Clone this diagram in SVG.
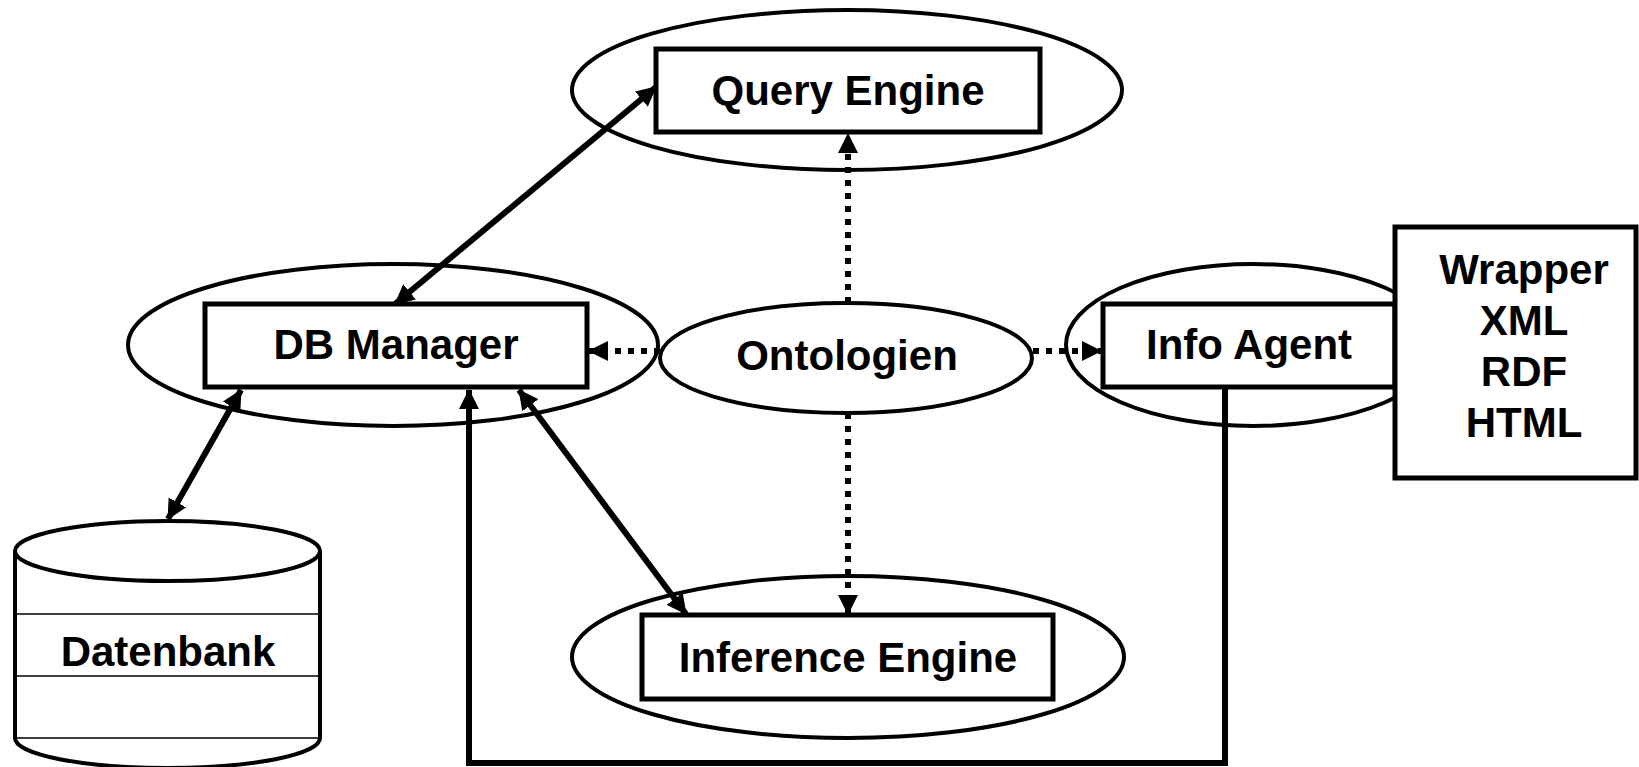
<svg xmlns="http://www.w3.org/2000/svg" width="1639" height="767" viewBox="0 0 1639 767">
  <style>
    .ring { fill: #ffffff; stroke: #000000; stroke-width: 4; }
    .box { fill: #ffffff; stroke: #000000; stroke-width: 5; }
    .label { font-family: "Liberation Sans", Arial, Helvetica, sans-serif; font-weight: bold; font-size: 42px; fill: #000000; text-anchor: middle; }
    .thin { stroke: #000000; stroke-width: 1.5; fill: none; }
    .solid { fill: none; stroke: #000000; stroke-width: 6; }
    .dotted { fill: none; stroke: #000000; stroke-width: 6; stroke-dasharray: 6 7; }
  </style>
  <defs>
    <marker id="tip" markerUnits="userSpaceOnUse" markerWidth="21" markerHeight="21" viewBox="0 0 21 21" refX="19" refY="10.5" orient="auto-start-reverse">
      <path d="M0,0.5 L20,10.5 L0,20.5 z" fill="#000000"/>
    </marker>
  </defs>

  <rect width="1639" height="767" fill="#ffffff"/>

  <!-- Query Engine -->
  <g id="query-engine">
    <ellipse class="ring" cx="847" cy="90" rx="275" ry="80"/>
    <rect class="box" x="656" y="49" width="384" height="83"/>
    <text class="label" x="848" y="105">Query Engine</text>
  </g>

  <!-- DB Manager -->
  <g id="db-manager">
    <ellipse class="ring" cx="393" cy="345" rx="265" ry="81"/>
    <rect class="box" x="205" y="304" width="382" height="83"/>
    <text class="label" x="396" y="359">DB Manager</text>
  </g>

  <!-- Ontologien -->
  <g id="ontologien">
    <ellipse class="ring" cx="846" cy="358" rx="186" ry="55"/>
    <text class="label" x="847" y="370">Ontologien</text>
  </g>

  <!-- Info Agent -->
  <g id="info-agent">
    <ellipse class="ring" cx="1253" cy="345" rx="187" ry="81"/>
    <rect class="box" x="1103" y="304" width="292" height="83"/>
    <text class="label" x="1249" y="359">Info Agent</text>
  </g>

  <!-- Wrapper -->
  <g id="wrapper">
    <rect class="box" x="1395" y="227" width="241" height="251"/>
    <text class="label" x="1524" y="284">Wrapper</text>
    <text class="label" x="1524" y="335">XML</text>
    <text class="label" x="1524" y="386">RDF</text>
    <text class="label" x="1524" y="437">HTML</text>
  </g>

  <!-- Inference Engine -->
  <g id="inference-engine">
    <ellipse class="ring" cx="848" cy="657" rx="276" ry="81"/>
    <rect class="box" x="642" y="615" width="411" height="84"/>
    <text class="label" x="848" y="672">Inference Engine</text>
  </g>

  <!-- Datenbank (cylinder) -->
  <g id="datenbank">
    <path class="ring" d="M15,551 L15,738 A152.5,30 0 0 0 320,738 L320,551"/>
    <line class="thin" x1="15" y1="614" x2="320" y2="614"/>
    <line class="thin" x1="15" y1="676" x2="320" y2="676"/>
    <line class="thin" x1="15" y1="738" x2="320" y2="738"/>
    <ellipse class="ring" cx="167.5" cy="551" rx="152.5" ry="30"/>
    <text class="label" x="168" y="666">Datenbank</text>
  </g>

  <!-- Connectors -->
  <g id="connectors">
    <line class="solid" x1="395" y1="304" x2="656" y2="87" marker-start="url(#tip)" marker-end="url(#tip)"/>
    <line class="solid" x1="241" y1="390" x2="168" y2="519" marker-start="url(#tip)" marker-end="url(#tip)"/>
    <line class="solid" x1="519" y1="390" x2="686" y2="614" marker-start="url(#tip)" marker-end="url(#tip)"/>
    <polyline class="solid" points="1225,387 1225,763 469,763 469,390" marker-end="url(#tip)"/>
    <line class="dotted" x1="848" y1="303" x2="848" y2="134" marker-end="url(#tip)"/>
    <line class="dotted" x1="848" y1="413" x2="848" y2="614" marker-end="url(#tip)"/>
    <line class="dotted" x1="660" y1="351" x2="589" y2="351" marker-end="url(#tip)"/>
    <line class="dotted" x1="1033" y1="351" x2="1101" y2="351" marker-end="url(#tip)"/>
  </g>
</svg>
